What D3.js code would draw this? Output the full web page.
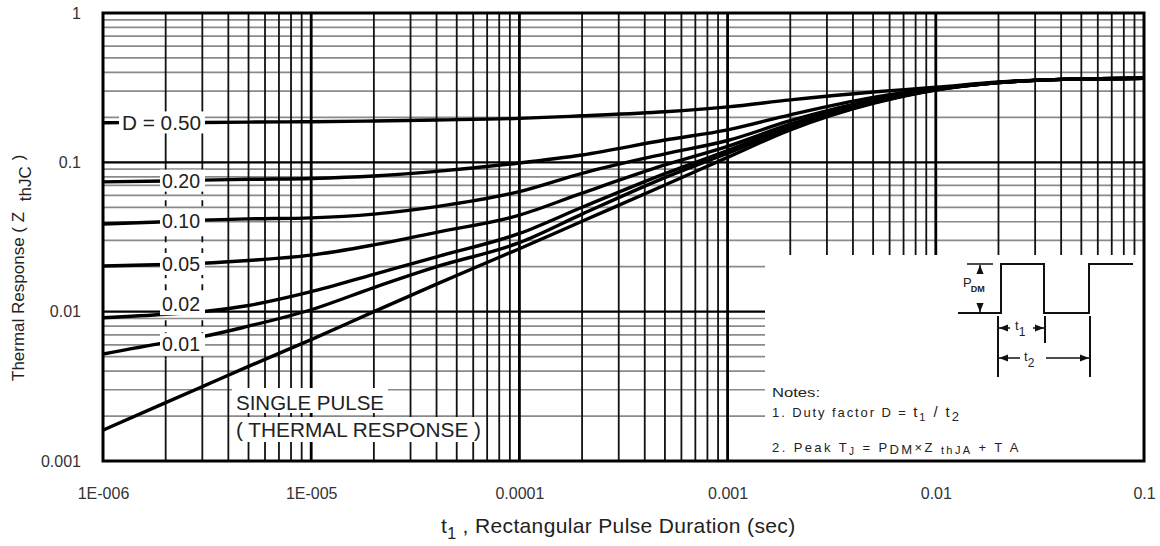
<!DOCTYPE html>
<html>
<head>
<meta charset="utf-8">
<script src="https://cdn.jsdelivr.net/npm/d3@7"></script>
<style>
  html, body { margin: 0; padding: 0; background: #fff; }
  svg { display: block; font-family: "Liberation Sans", Arial, sans-serif; }
</style>
</head>
<body>
<svg id="chart" width="1160" height="546"></svg>
<script>
// ---------- data ----------
const pulseDurations = [1e-6, 2e-6, 3e-6, 5e-6, 1e-5, 2e-5, 4e-5, 1e-4, 2e-4, 5e-4, 1e-3, 2e-3, 5e-3, 1e-2, 2e-2, 5e-2, 1e-1];
const seriesNames = ["D = 0.50", "0.20", "0.10", "0.05", "0.02", "0.01", "SINGLE PULSE"];
const d050   = [0.184, 0.185, 0.185, 0.186, 0.187, 0.189, 0.192, 0.197, 0.205, 0.218, 0.235, 0.262, 0.296, 0.318, 0.345, 0.362, 0.366];
const d020   = [0.074, 0.075, 0.076, 0.077, 0.078, 0.081, 0.087, 0.099, 0.112, 0.141, 0.165, 0.208, 0.272, 0.312, 0.343, 0.362, 0.366];
const d010   = [0.0386, 0.0400, 0.0410, 0.0418, 0.0425, 0.0450, 0.0505, 0.0636, 0.0844, 0.114, 0.140, 0.190, 0.262, 0.310, 0.343, 0.362, 0.366];
const d005   = [0.0202, 0.0207, 0.0211, 0.0220, 0.0239, 0.0280, 0.0340, 0.0443, 0.0622, 0.096, 0.128, 0.180, 0.256, 0.308, 0.342, 0.362, 0.366];
const d002   = [0.0091, 0.0096, 0.0100, 0.0110, 0.0136, 0.0178, 0.0233, 0.0334, 0.0500, 0.084, 0.120, 0.175, 0.252, 0.307, 0.342, 0.362, 0.366];
const d001   = [0.0052, 0.0062, 0.0068, 0.0080, 0.0103, 0.0145, 0.0200, 0.0290, 0.0450, 0.079, 0.115, 0.170, 0.250, 0.306, 0.342, 0.362, 0.366];
const single = [0.00161, 0.00246, 0.00315, 0.0043, 0.0065, 0.0100, 0.0153, 0.0264, 0.0403, 0.0705, 0.108, 0.165, 0.248, 0.305, 0.342, 0.362, 0.366];
const xTickValues = [1e-6, 1e-5, 1e-4, 1e-3, 1e-2, 1e-1];
const xTickLabels = ["1E-006", "1E-005", "0.0001", "0.001", "0.01", "0.1"];
const yTickValues = [0.001, 0.01, 0.1, 1];
const yTickLabels = ["0.001", "0.01", "0.1", "1"];

const seriesValues = [d050, d020, d010, d005, d002, d001, single];

// ---------- layout ----------
const W = 1160, H = 546;
const m = { left: 103, right: 16, top: 13, bottom: 85 };
const pw = W - m.left - m.right, ph = H - m.top - m.bottom;

const svg = d3.select("#chart");
const x = d3.scaleLog().domain([1e-6, 1e-1]).range([m.left, m.left + pw]);
const y = d3.scaleLog().domain([0.001, 1]).range([m.top + ph, m.top]);

svg.append("rect").attr("width", W).attr("height", H).attr("fill", "#fff");

const xMinor = [], yMinor = [];
for (let e = -6; e < -1; e++) for (let k = 2; k <= 9; k++) xMinor.push(k * Math.pow(10, e));
for (let e = -3; e < 0; e++) for (let k = 2; k <= 9; k++) yMinor.push(k * Math.pow(10, e));

const grid = svg.append("g");
grid.selectAll(".hmin").data(yMinor).join("line")
  .attr("x1", m.left).attr("x2", m.left + pw)
  .attr("y1", d => y(d)).attr("y2", d => y(d))
  .attr("stroke", "#8a8a8a").attr("stroke-width", 1.7);

const labelZoneTop = y(0.1) + 2, labelZoneBottom = y(0.0048);
const dashedCol = new Set([2e-6, 3e-6].map(v => v.toPrecision(3)));
xMinor.forEach(v => {
  const xv = x(v);
  const seg = (y1, y2, dashed) => {
    const l = grid.append("line").attr("x1", xv).attr("x2", xv).attr("y1", y1).attr("y2", y2)
      .attr("stroke", "#111").attr("stroke-width", 1.8);
    if (dashed) l.attr("stroke-dasharray", "6,6");
  };
  if (dashedCol.has(v.toPrecision(3))) {
    seg(m.top, labelZoneTop, false);
    seg(labelZoneTop, labelZoneBottom, true);
    seg(labelZoneBottom, m.top + ph, false);
  } else {
    seg(m.top, m.top + ph, false);
  }
});
grid.selectAll(".vmaj").data(xTickValues.slice(1, -1)).join("line")
  .attr("x1", d => x(d)).attr("x2", d => x(d)).attr("y1", m.top).attr("y2", m.top + ph)
  .attr("stroke", "#000").attr("stroke-width", 2.8);
grid.selectAll(".hmaj").data(yTickValues.slice(1, -1)).join("line")
  .attr("x1", m.left).attr("x2", m.left + pw).attr("y1", d => y(d)).attr("y2", d => y(d))
  .attr("stroke", "#000").attr("stroke-width", 2.4);

// inset (notes) area
const insetX = 765, insetY = 255;
svg.append("rect").attr("x", insetX).attr("y", insetY)
  .attr("width", m.left + pw - insetX).attr("height", m.top + ph - insetY).attr("fill", "#fff");

// ---------- curves ----------
svg.append("clipPath").attr("id", "clip").append("rect")
  .attr("x", m.left).attr("y", m.top).attr("width", pw).attr("height", ph);
const line = d3.line().x(d => x(d[0])).y(d => y(d[1])).curve(d3.curveMonotoneX);
svg.append("g").attr("clip-path", "url(#clip)").selectAll("path")
  .data(seriesValues).join("path")
  .attr("d", vals => line(pulseDurations.map((t, i) => [t, vals[i]])))
  .attr("fill", "none").attr("stroke", "#000").attr("stroke-width", 3.4)
  .attr("stroke-linejoin", "round");

// ---------- curve labels ----------
function valueAt(vals, t) {
  const lt = Math.log10(t);
  for (let i = 0; i < pulseDurations.length - 1; i++) {
    const a = Math.log10(pulseDurations[i]), b = Math.log10(pulseDurations[i + 1]);
    if (lt >= a && lt <= b) {
      const f = (lt - a) / (b - a);
      return Math.pow(10, Math.log10(vals[i]) + f * (Math.log10(vals[i + 1]) - Math.log10(vals[i])));
    }
  }
  return vals[0];
}
const labelT = 2.37e-6;
const nudges = [0, 0, 0, 0, -9, 4];
const lg = svg.append("g");
seriesNames.slice(0, 6).forEach((name, i) => {
  const cy = y(valueAt(seriesValues[i], labelT)) + nudges[i];
  const first = i === 0;
  const x0 = first ? 119 : 160, x1 = 205;
  lg.append("rect").attr("x", x0).attr("y", cy - 11).attr("width", x1 - x0).attr("height", 22).attr("fill", "#fff");
  lg.append("text").attr("x", first ? 122 : 162).attr("y", cy).attr("dy", "0.36em")
    .attr("font-size", 20).attr("fill", "#222")
    .attr("textLength", first ? 79 : 38).attr("lengthAdjust", "spacingAndGlyphs")
    .text(name);
});

// single pulse label
const sp = svg.append("g");
sp.append("rect").attr("x", 232).attr("y", 388).attr("width", 156).attr("height", 25).attr("fill", "#fff");
sp.append("rect").attr("x", 232).attr("y", 417).attr("width", 252).attr("height", 25).attr("fill", "#fff");
sp.append("text").attr("x", 236).attr("y", 410).attr("font-size", 19.5).attr("fill", "#222")
  .attr("textLength", 148).attr("lengthAdjust", "spacingAndGlyphs").text(seriesNames[6]);
sp.append("text").attr("x", 236).attr("y", 437).attr("font-size", 19.5).attr("fill", "#222")
  .attr("textLength", 245).attr("lengthAdjust", "spacingAndGlyphs").text("( THERMAL RESPONSE )");

// ---------- frame ----------
svg.append("rect").attr("x", m.left).attr("y", m.top).attr("width", pw).attr("height", ph)
  .attr("fill", "none").attr("stroke", "#000").attr("stroke-width", 3);

// ---------- inset diagram ----------
const ins = svg.append("g").attr("stroke", "#111").attr("fill", "none").attr("stroke-width", 2);
const defs = svg.append("defs");
defs.append("marker").attr("id", "ah").attr("viewBox", "0 0 10 10").attr("refX", 10).attr("refY", 5)
  .attr("markerWidth", 6).attr("markerHeight", 6).attr("orient", "auto-start-reverse")
  .append("path").attr("d", "M0,1 L10,5 L0,9 Z").attr("fill", "#111").attr("stroke", "none");
const pBase = 313, pTop = 264;
ins.append("path").attr("d",
  `M958,${pBase} H1001 V${pTop} H1044 V${pBase} H1089 V${pTop} H1133`);
ins.append("line").attr("x1", 967).attr("x2", 993).attr("y1", pTop).attr("y2", pTop).attr("stroke-width", 1.5);
ins.append("line").attr("x1", 980).attr("x2", 980).attr("y1", pTop + 10).attr("y2", pTop + 1)
  .attr("marker-end", "url(#ah)").attr("stroke-width", 1.5);
ins.append("line").attr("x1", 980).attr("x2", 980).attr("y1", pBase - 10).attr("y2", pBase - 1)
  .attr("marker-end", "url(#ah)").attr("stroke-width", 1.5);
ins.append("line").attr("x1", 998).attr("x2", 998).attr("y1", pBase + 3).attr("y2", 377);
ins.append("line").attr("x1", 1045).attr("x2", 1045).attr("y1", pBase + 3).attr("y2", 343);
ins.append("line").attr("x1", 1090).attr("x2", 1090).attr("y1", pBase + 3).attr("y2", 377);
ins.append("line").attr("x1", 1010).attr("x2", 999).attr("y1", 328).attr("y2", 328).attr("marker-end", "url(#ah)").attr("stroke-width", 1.5);
ins.append("line").attr("x1", 1033).attr("x2", 1044).attr("y1", 328).attr("y2", 328).attr("marker-end", "url(#ah)").attr("stroke-width", 1.5);
ins.append("line").attr("x1", 1020).attr("x2", 999).attr("y1", 358).attr("y2", 358).attr("marker-end", "url(#ah)").attr("stroke-width", 1.5);
ins.append("line").attr("x1", 1046).attr("x2", 1089).attr("y1", 358).attr("y2", 358).attr("marker-end", "url(#ah)").attr("stroke-width", 1.5);

const it = svg.append("g").attr("fill", "#222");
const pdm = it.append("text").attr("x", 963).attr("y", 287).attr("font-size", 13);
pdm.append("tspan").text("P");
pdm.append("tspan").attr("font-size", 9).attr("dy", 5).attr("dx", -1).attr("font-weight", "bold").text("DM");
const t1 = it.append("text").attr("x", 1015).attr("y", 330).attr("font-size", 13);
t1.append("tspan").text("t");
t1.append("tspan").attr("font-size", 12).attr("dy", 6).text("1");
const t2 = it.append("text").attr("x", 1024).attr("y", 361).attr("font-size", 13);
t2.append("tspan").text("t");
t2.append("tspan").attr("font-size", 12).attr("dy", 6).text("2");

it.append("text").attr("x", 772).attr("y", 397).attr("font-size", 13)
  .attr("textLength", 48).attr("lengthAdjust", "spacingAndGlyphs").text("Notes:");
const n1 = it.append("text").attr("x", 772).attr("y", 417).attr("font-size", 13).attr("letter-spacing", 1.9);
n1.append("tspan").text("1. Duty factor D =  ");
n1.append("tspan").attr("font-size", 15).text("t");
n1.append("tspan").attr("font-size", 11).attr("dy", 4).text("1");
n1.append("tspan").attr("font-size", 15).attr("dy", -4).text(" / t");
n1.append("tspan").attr("font-size", 13).attr("dy", 4).text("2");
const n2 = it.append("text").attr("x", 772).attr("y", 452).attr("font-size", 13).attr("letter-spacing", 2.4);
n2.append("tspan").text("2. Peak T");
n2.append("tspan").attr("font-size", 10).attr("dy", 3).text("J");
n2.append("tspan").attr("dy", -3).text(" =  P");
n2.append("tspan").attr("font-size", 13).attr("dy", 2).text("DM");
n2.append("tspan").attr("dy", -2).text("\u00d7Z ");
n2.append("tspan").attr("font-size", 11).attr("dy", 2).text("thJA");
n2.append("tspan").attr("dy", -2).text(" + T A");

// ---------- axes ----------
const xAxis = d3.axisBottom(x).tickValues(xTickValues)
  .tickFormat((d, i) => xTickLabels[i]).tickSize(0).tickPadding(27);
const gx = svg.append("g").attr("transform", `translate(0,${m.top + ph})`).call(xAxis);
gx.select(".domain").remove();
gx.selectAll("text").attr("font-size", 16).attr("fill", "#333")
  .attr("font-family", "'Liberation Sans', Arial, sans-serif");

const yAxis = d3.axisLeft(y).tickValues(yTickValues)
  .tickFormat((d, i) => yTickLabels[i]).tickSize(0).tickPadding(22);
const gy = svg.append("g").attr("transform", `translate(${m.left},0)`).call(yAxis);
gy.select(".domain").remove();
gy.selectAll("text").attr("font-size", 16).attr("fill", "#333")
  .attr("font-family", "'Liberation Sans', Arial, sans-serif");

// titles
const xt = svg.append("text").attr("x", 441).attr("y", 533).attr("font-size", 21)
  .attr("letter-spacing", 0.35).attr("fill", "#222");
xt.append("tspan").text("t");
xt.append("tspan").attr("font-size", 16).attr("dy", 6).text("1");
xt.append("tspan").attr("dy", -6).text(" , Rectangular Pulse Duration (sec)");

const yt = svg.append("text").attr("transform", "translate(24,381) rotate(-90)")
  .attr("text-anchor", "start").attr("font-size", 17).attr("fill", "#222");
yt.append("tspan").text("Thermal Response ( Z ");
yt.append("tspan").attr("dx", 6).attr("dy", 7).text("thJC");
yt.append("tspan").attr("dx", 6).attr("dy", -7).text(")");
</script>
</body>
</html>
